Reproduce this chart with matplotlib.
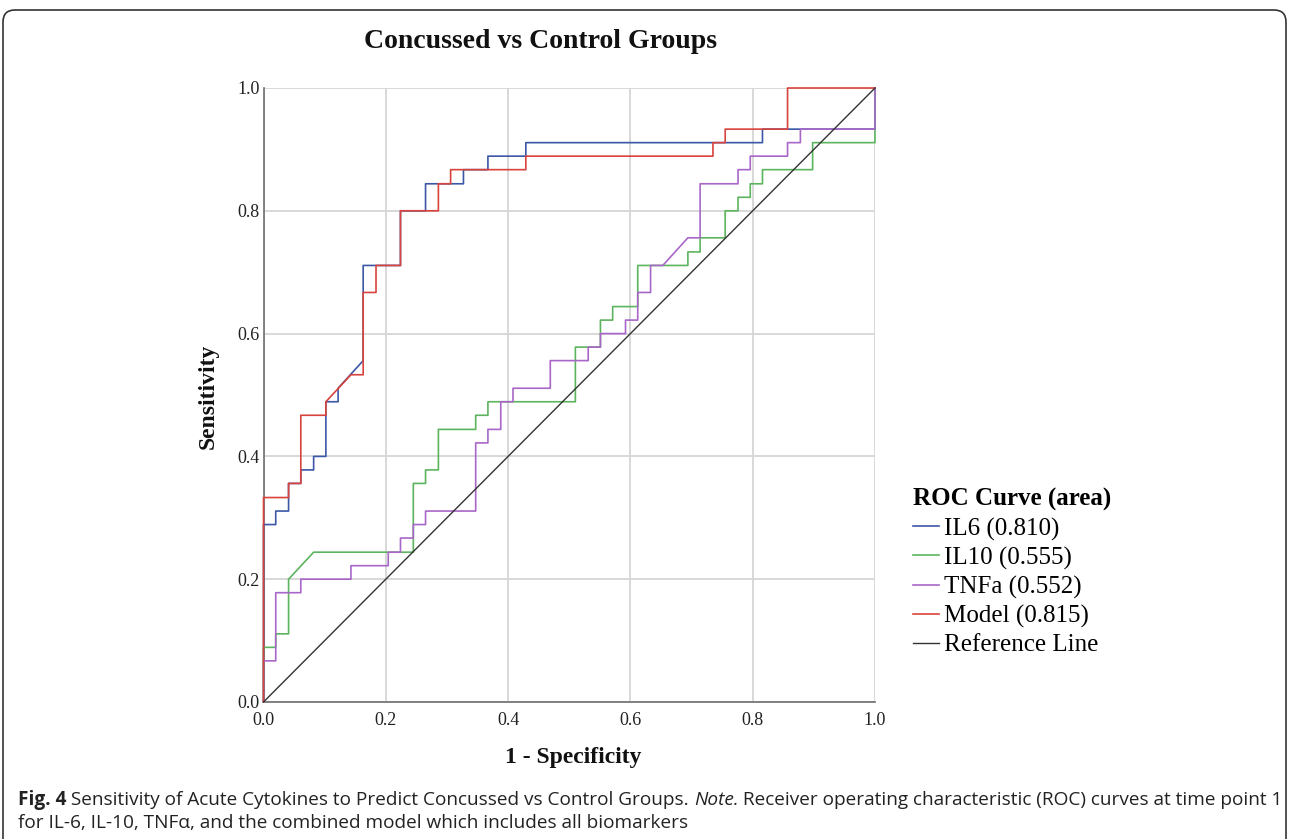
import matplotlib
matplotlib.use("Agg")
import matplotlib.pyplot as plt
from matplotlib.patches import FancyBboxPatch
from matplotlib.transforms import IdentityTransform

# ---- ROC coordinates: (1 - specificity, sensitivity) ----
il6_fpr = [0, 0, 0.020, 0.020, 0.041, 0.041, 0.061, 0.061, 0.082, 0.082, 0.102, 0.102,
           0.122, 0.122, 0.163, 0.163, 0.224, 0.224, 0.265, 0.265, 0.327, 0.327, 0.367,
           0.367, 0.429, 0.429, 0.816, 0.816, 1, 1]
il6_tpr = [0, 0.289, 0.289, 0.311, 0.311, 0.356, 0.356, 0.378, 0.378, 0.400, 0.400, 0.489,
           0.489, 0.511, 0.556, 0.711, 0.711, 0.800, 0.800, 0.844, 0.844, 0.867, 0.867,
           0.889, 0.889, 0.911, 0.911, 0.933, 0.933, 1]

il10_fpr = [0, 0, 0.020, 0.020, 0.041, 0.041, 0.082, 0.245, 0.245, 0.265, 0.265, 0.286,
            0.286, 0.347, 0.347, 0.367, 0.367, 0.510, 0.510, 0.551, 0.551, 0.571, 0.571,
            0.612, 0.612, 0.694, 0.694, 0.714, 0.714, 0.755, 0.755, 0.776, 0.776, 0.796,
            0.796, 0.816, 0.816, 0.898, 0.898, 1, 1]
il10_tpr = [0, 0.089, 0.089, 0.111, 0.111, 0.200, 0.244, 0.244, 0.356, 0.356, 0.378, 0.378,
            0.444, 0.444, 0.467, 0.467, 0.489, 0.489, 0.578, 0.578, 0.622, 0.622, 0.644,
            0.644, 0.711, 0.711, 0.733, 0.733, 0.756, 0.756, 0.800, 0.800, 0.822, 0.822,
            0.844, 0.844, 0.867, 0.867, 0.911, 0.911, 1]

tnfa_fpr = [0, 0, 0.020, 0.020, 0.061, 0.061, 0.143, 0.143, 0.204, 0.204, 0.224, 0.224,
            0.245, 0.245, 0.265, 0.265, 0.347, 0.347, 0.367, 0.367, 0.388, 0.388, 0.408,
            0.408, 0.469, 0.469, 0.531, 0.531, 0.551, 0.551, 0.592, 0.592, 0.612, 0.612,
            0.633, 0.633, 0.653, 0.694, 0.714, 0.714, 0.776, 0.776, 0.796, 0.796, 0.857,
            0.857, 0.878, 0.878, 1, 1]
tnfa_tpr = [0, 0.067, 0.067, 0.178, 0.178, 0.200, 0.200, 0.222, 0.222, 0.244, 0.244, 0.267,
            0.267, 0.289, 0.289, 0.311, 0.311, 0.422, 0.422, 0.444, 0.444, 0.489, 0.489,
            0.511, 0.511, 0.556, 0.556, 0.578, 0.578, 0.600, 0.600, 0.622, 0.622, 0.667,
            0.667, 0.711, 0.711, 0.756, 0.756, 0.844, 0.844, 0.867, 0.867, 0.889, 0.889,
            0.911, 0.911, 0.933, 0.933, 1]

model_fpr = [0, 0, 0.041, 0.041, 0.061, 0.061, 0.102, 0.102, 0.143, 0.163, 0.163, 0.184,
             0.184, 0.224, 0.224, 0.286, 0.286, 0.306, 0.306, 0.429, 0.429, 0.735, 0.735,
             0.755, 0.755, 0.857, 0.857, 1]
model_tpr = [0, 0.333, 0.333, 0.356, 0.356, 0.467, 0.467, 0.489, 0.533, 0.533, 0.667, 0.667,
             0.711, 0.711, 0.800, 0.800, 0.844, 0.844, 0.867, 0.867, 0.889, 0.889, 0.911,
             0.911, 0.933, 0.933, 1, 1]

ref_x = [0, 1]
ref_y = [0, 1]

labels = ["IL6 (0.810)", "IL10 (0.555)", "TNFa (0.552)", "Model (0.815)", "Reference Line"]
colors = ["#3d57a7", "#5cb55e", "#a867c8", "#d9433d", "#333333"]
ticks = [0.0, 0.2, 0.4, 0.6, 0.8, 1.0]

# ------------------------------------------------------------------
plt.rcParams["font.family"] = ["Liberation Serif", "DejaVu Serif"]

W, H = 1290, 839
fig = plt.figure(figsize=(W / 100, H / 100), dpi=100)
ax = fig.add_axes([263.5 / W, 1 - 702 / H, (875 - 263.5) / W, (702 - 88) / H])

series = [(il6_fpr, il6_tpr), (il10_fpr, il10_tpr), (tnfa_fpr, tnfa_tpr),
          (model_fpr, model_tpr), (ref_x, ref_y)]
handles = []
for (xs, ys), lab, col in zip(series, labels, colors):
    lw = 1.0 if lab == "Reference Line" else 1.2
    ln, = ax.plot(xs, ys, color=col, lw=lw, label=lab, clip_on=False, zorder=3)
    handles.append(ln)

ax.set_xlim(0, 1)
ax.set_ylim(0, 1)
ax.set_xticks(ticks)
ax.set_yticks(ticks)
ax.set_xticklabels([f"{t:.1f}" for t in ticks])
ax.set_yticklabels([f"{t:.1f}" for t in ticks])
ax.tick_params(length=0, labelsize=13, colors="#222222")
ax.tick_params(axis="x", pad=7)
ax.tick_params(axis="y", pad=3)
ax.grid(True, color="#d6d6d6", lw=1.3, zorder=0)
for s in ["top", "right"]:
    ax.spines[s].set_visible(False)
for s in ["left", "bottom"]:
    ax.spines[s].set_color("#6e6e6e")
    ax.spines[s].set_linewidth(1.2)
    ax.spines[s].set_zorder(2.5)

fig.text(541 / W, 1 - 41 / H, "Concussed vs Control Groups", ha="center", va="center",
         fontsize=20, fontweight="bold", color="#111111")
fig.text(208 / W, 1 - 396 / H, "Sensitivity", ha="center", va="center", rotation=90,
         fontsize=17, fontweight="bold", color="#111111")
fig.text(573 / W, 1 - 757 / H, "1 - Specificity", ha="center", va="center",
         fontsize=17, fontweight="bold", color="#111111")

leg = fig.legend(handles=handles, labels=labels, loc="upper left",
                 bbox_to_anchor=(913 / W, 1 - 488 / H), frameon=False,
                 title="ROC Curve (area)", alignment="left",
                 prop={"size": 18}, title_fontproperties={"size": 18, "weight": "bold"},
                 handlelength=1.05, handletextpad=0.2, labelspacing=0.24,
                 borderaxespad=0, borderpad=0)

# outer rounded frame of the figure panel
frame = FancyBboxPatch((3, -30), 1283, 30 + (H - 10), boxstyle="round,pad=0,rounding_size=12",
                       transform=IdentityTransform(), fill=False, ec="#333333", lw=1.2)
fig.patches.append(frame)

# caption, built from runs of differently styled text
cap_font = ["Open Sans", "DejaVu Sans"]
line1 = [("Fig. 4", "bold", "normal"),
         (" Sensitivity of Acute Cytokines to Predict Concussed vs Control Groups. ", "normal", "normal"),
         ("Note.", "normal", "italic"),
         (" Receiver operating characteristic (ROC) curves at time point 1", "normal", "normal")]
line2 = [("for IL-6, IL-10, TNF\u03b1, and the combined model which includes all biomarkers",
          "normal", "normal")]

renderer = fig.canvas.get_renderer()


def place_runs(runs, x0, y0, size):
    x = x0
    out = []
    for txt, wt, st in runs:
        t = fig.text(x / W, 1 - y0 / H, txt, fontsize=size, fontweight=wt, fontstyle=st,
                     family=cap_font, ha="left", va="baseline", color="#222222")
        x += t.get_window_extent(renderer).width
        out.append(t)
    return out, x - x0


size = 13
probe, width = place_runs(line1, 18, 805, size)
for t in probe:
    t.remove()
size = size * 1258 / width
place_runs(line1, 18, 805, size)
place_runs(line2, 18, 828, size)

fig.savefig("out.png", dpi=100)
